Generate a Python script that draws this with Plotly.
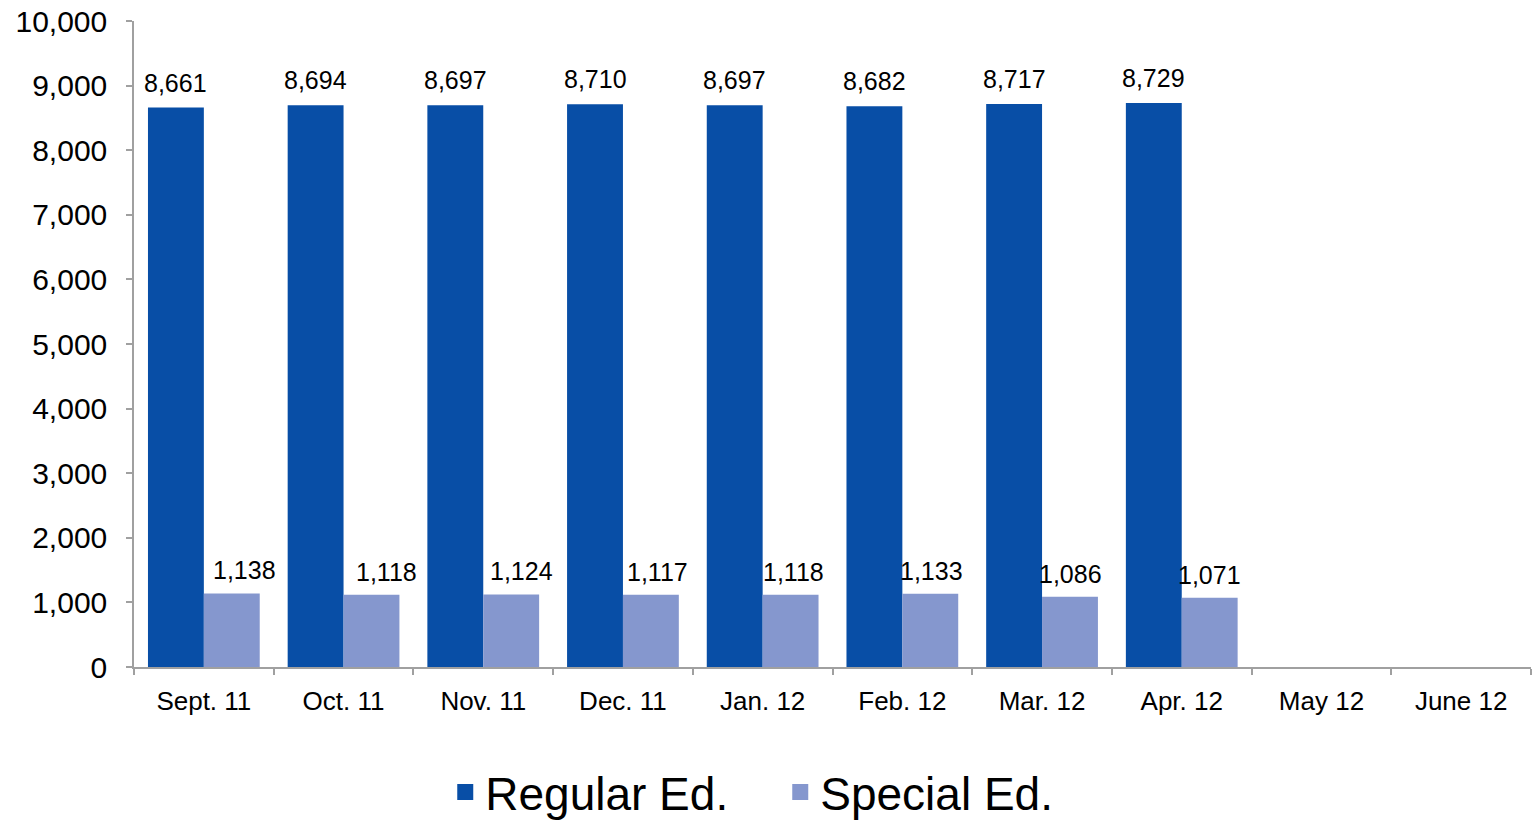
import plotly.graph_objects as go

months = ["Sept. 11", "Oct. 11", "Nov. 11", "Dec. 11", "Jan. 12", "Feb. 12",
          "Mar. 12", "Apr. 12", "May 12", "June 12"]
regular_ed = [8661, 8694, 8697, 8710, 8697, 8682, 8717, 8729, None, None]
special_ed = [1138, 1118, 1124, 1117, 1118, 1133, 1086, 1071, None, None]
series_names = ["Regular Ed.", "Special Ed."]

REG_COLOR = "#084EA6"
SPE_COLOR = "#8597CE"
AXIS_COLOR = "#A0A0A0"
FONT = "Liberation Sans, Arial, sans-serif"

# horizontal nudges (px) for the special-ed labels, as in the original layout
special_label_nudge = [13, 15, 10, 7, 3, 1, 1, 0, 0, 0]

fig = go.Figure()
fig.add_trace(go.Bar(x=months, y=regular_ed, name=series_names[0], showlegend=False,
                     marker=dict(color=REG_COLOR, line=dict(width=0))))
fig.add_trace(go.Bar(x=months, y=special_ed, name=series_names[1], showlegend=False,
                     marker=dict(color=SPE_COLOR, line=dict(width=0))))
# legend entries with larger square swatches
for nm, col in zip(series_names, [REG_COLOR, SPE_COLOR]):
    fig.add_trace(go.Scatter(x=[None], y=[None], mode="markers", name=nm,
                             marker=dict(symbol="square", size=22, color=col),
                             hoverinfo="skip"))

annotations = []
for i, (r, s) in enumerate(zip(regular_ed, special_ed)):
    if r is not None:
        annotations.append(dict(x=i - 0.2, y=r, xref="x", yref="y",
                                text=f"{r:,}", showarrow=False,
                                yanchor="bottom", yshift=9,
                                font=dict(size=25, color="black", family=FONT)))
    if s is not None:
        annotations.append(dict(x=i + 0.2, y=s, xref="x", yref="y",
                                text=f"{s:,}", showarrow=False,
                                yanchor="bottom", yshift=7,
                                xshift=special_label_nudge[i],
                                font=dict(size=25, color="black", family=FONT)))

fig.update_layout(
    width=1533, height=831,
    margin=dict(l=134, r=2, t=21, b=162),
    paper_bgcolor="white", plot_bgcolor="white",
    barmode="group", bargap=0.2, bargroupgap=0,
    font=dict(family=FONT, color="black"),
    showlegend=True,
    legend=dict(orientation="h", x=0.4626, xanchor="center",
                y=-0.25, yanchor="bottom",
                font=dict(size=46, family=FONT, color="black"),
                itemsizing="trace", itemwidth=30, tracegroupgap=0,
                entrywidth=290, entrywidthmode="pixels"),
    annotations=annotations,
    xaxis=dict(type="category", categoryorder="array", categoryarray=months,
               range=[-0.5, len(months) - 0.5], automargin=False,
               showline=True, linecolor=AXIS_COLOR, linewidth=1.5,
               ticks="outside", tickson="boundaries", ticklen=6,
               tickcolor=AXIS_COLOR, tickwidth=1.5, ticklabelstandoff=10,
               tickfont=dict(size=26, family=FONT, color="black"),
               showgrid=False, zeroline=False),
    yaxis=dict(range=[0, 10000], tickmode="linear", tick0=0, dtick=1000,
               tickformat=",d", automargin=False,
               showline=True, linecolor=AXIS_COLOR, linewidth=1.5,
               ticks="outside", ticklen=6, tickcolor=AXIS_COLOR, tickwidth=1.5,
               ticklabelstandoff=13,
               tickfont=dict(size=30, family=FONT, color="black"),
               showgrid=False, zeroline=False),
)

fig.write_html("out.html",
               config={"displayModeBar": False},
               post_script="document.body.style.margin='0px';"
                           "document.body.style.overflow='hidden';")
